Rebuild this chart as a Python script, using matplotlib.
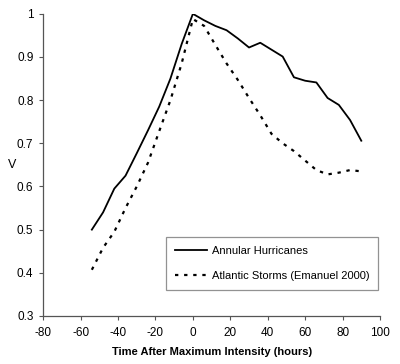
import matplotlib
matplotlib.use("Agg")
import matplotlib.pyplot as plt

# hours after maximum intensity
hours = [-54, -48, -42, -36, -30, -24, -18, -12, -6, 0, 6, 12, 18,
         24, 30, 36, 42, 48, 54, 60, 66, 72, 78, 84, 90]

annular = [0.500, 0.540, 0.595, 0.625, 0.677, 0.730, 0.785, 0.850, 0.930, 1.000,
           0.985, 0.972, 0.962, 0.943, 0.922, 0.933, 0.917, 0.901, 0.853, 0.845,
           0.841, 0.805, 0.789, 0.754, 0.706]

atlantic = [0.407, 0.458, 0.495, 0.550, 0.600, 0.655, 0.728, 0.800, 0.885, 0.988,
            0.972, 0.928, 0.885, 0.847, 0.805, 0.765, 0.722, 0.700, 0.682, 0.660,
            0.638, 0.628, 0.632, 0.638, 0.635]

plt.rcParams["font.family"] = ["Liberation Sans", "DejaVu Sans"]
plt.rcParams["axes.unicode_minus"] = False

fig = plt.figure(figsize=(4.0, 3.64), dpi=100)
ax = fig.add_axes([0.108, 0.132, 0.842, 0.830])

ax.plot(hours, annular, color="black", lw=1.3, label="Annular Hurricanes")
ax.plot(hours, atlantic, color="black", lw=1.6, linestyle=(0, (1.5, 2.6)),
        label="Atlantic Storms (Emanuel 2000)")

ax.set_xlim(-80, 100)
ax.set_ylim(0.3, 1.0)
ax.set_xticks(range(-80, 101, 20))
ax.set_yticks([0.3, 0.4, 0.5, 0.6, 0.7, 0.8, 0.9, 1.0])
ax.set_yticklabels(["0.3", "0.4", "0.5", "0.6", "0.7", "0.8", "0.9", "1"])

for s in ["top", "right"]:
    ax.spines[s].set_visible(False)
for s in ["left", "bottom"]:
    ax.spines[s].set_color("#555555")
    ax.spines[s].set_linewidth(0.9)

ax.tick_params(axis="both", labelsize=8.5, colors="#555555", labelcolor="black",
               length=3, width=0.8, direction="out")
ax.tick_params(axis="x", pad=5)
ax.tick_params(axis="y", pad=4)

ax.set_xlabel("Time After Maximum Intensity (hours)", fontsize=8,
              fontweight="bold", labelpad=6)
ax.set_ylabel("V", fontsize=9, rotation=0, va="center", ha="center")
ax.yaxis.set_label_coords(-0.092, 0.5)

leg = ax.legend(loc="lower right", bbox_to_anchor=(0.995, 0.085), fontsize=8,
                frameon=True, fancybox=False, handlelength=2.9,
                borderpad=0.8, labelspacing=1.4, handletextpad=0.4,
                borderaxespad=0)
leg.get_frame().set_edgecolor("#777777")
leg.get_frame().set_linewidth(0.9)

fig.savefig("out.png", dpi=100)
